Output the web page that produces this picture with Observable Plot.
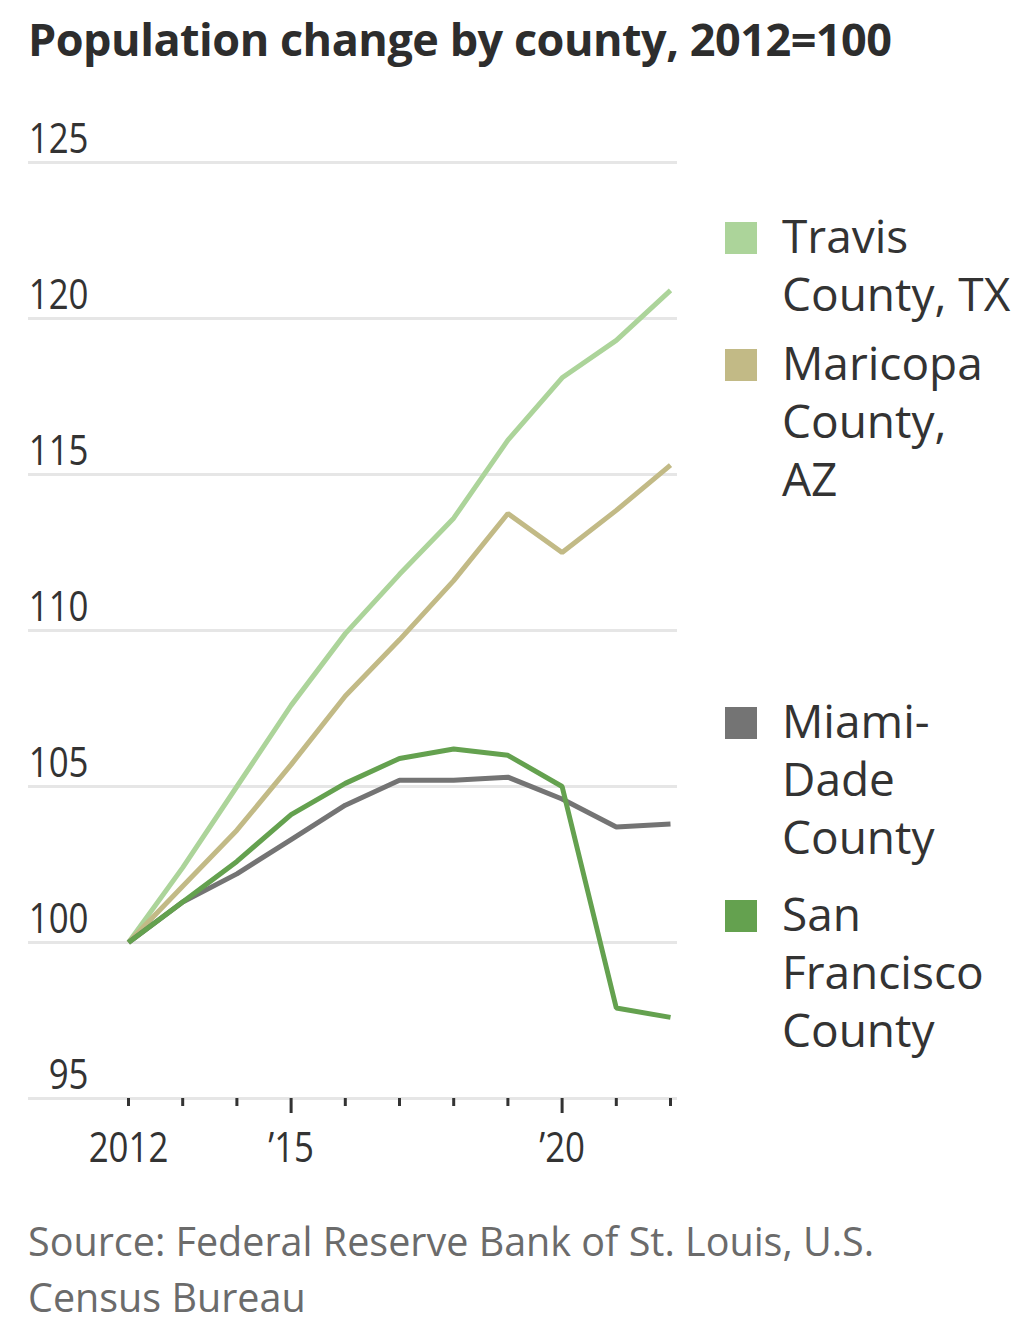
<!DOCTYPE html>
<html>
<head>
<meta charset="utf-8">
<script src="https://cdn.jsdelivr.net/npm/d3@7"></script>
<script src="https://cdn.jsdelivr.net/npm/@observablehq/plot@0.6"></script>
<style>
  html, body { margin: 0; padding: 0; background: #fff; }
  #wrap { position: relative; width: 1024px; height: 1334px; overflow: hidden; }
  #title { position: absolute; left: 28px; top: 8px; font-family: "Open Sans", "Noto Sans", sans-serif; font-weight: 700; font-size: 45px; color: #2d2d2d; white-space: nowrap; letter-spacing: -0.5px; }
  #chart { position: absolute; left: 0; top: 0; }
  #legend { position: absolute; left: 0; top: 0; font-family: "Open Sans", "Noto Sans", sans-serif; font-size: 46px; color: #333; }
  .item { position: absolute; left: 725px; }
  .sw { position: absolute; left: 0; width: 32px; height: 32px; }
  .lbl { position: absolute; left: 57px; line-height: 58px; white-space: nowrap; }
  #source { position: absolute; left: 28px; top: 1213px; font-family: "Open Sans", "Noto Sans", sans-serif; font-size: 39.5px; line-height: 56px; color: #6b6b6b; }
</style>
</head>
<body>
<div id="wrap">
  <div id="chart"></div>
  <div id="title"></div>
  <div id="legend"></div>
  <div id="source"></div>
</div>
<script>
const titleText = "Population change by county, 2012=100";
const sourceLines = ["Source: Federal Reserve Bank of St. Louis, U.S.", "Census Bureau"];

const years = [2012, 2013, 2014, 2015, 2016, 2017, 2018, 2019, 2020, 2021, 2022];
const counties = ["Travis County, TX", "Maricopa County, AZ", "Miami-Dade County", "San Francisco County"];
const legendLines = [["Travis", "County, TX"], ["Maricopa", "County,", "AZ"], ["Miami-", "Dade", "County"], ["San", "Francisco", "County"]];
const colors = ["#acd49a", "#c2ba86", "#747474", "#64a14f"];

const travis    = [100, 102.4, 105.0, 107.6, 109.9, 111.8, 113.6, 116.1, 118.1, 119.3, 120.9];
const maricopa  = [100, 101.8, 103.6, 105.7, 107.9, 109.7, 111.6, 113.75, 112.5, 113.85, 115.3];
const miamiDade = [100, 101.3, 102.2, 103.3, 104.4, 105.2, 105.2, 105.3, 104.6, 103.7, 103.8];
const sanFran   = [100, 101.3, 102.6, 104.1, 105.1, 105.9, 106.2, 106.0, 105.0, 97.9, 97.6];

const yTicks = [95, 100, 105, 110, 115, 120, 125];
const xLabelYears = [2012, 2015, 2020];
const xLabels = ["2012", "\u201915", "\u201920"];
const majorTickYears = [2015, 2020];

const seriesValues = [travis, maricopa, miamiDade, sanFran];
const data = counties.flatMap((c, i) => years.map((yr, j) => ({county: c, year: yr, value: seriesValues[i][j]})));

const chart = Plot.plot({
  width: 1024,
  height: 1200,
  marginLeft: 28,
  marginRight: 347,
  marginTop: 162,
  marginBottom: 102,
  style: {fontFamily: "'Open Sans', 'Noto Sans', sans-serif", color: "#333", background: "transparent"},
  x: {domain: [2012, 2022], insetLeft: 100, insetRight: 7, label: null},
  y: {domain: [95, 125], label: null},
  color: {domain: counties, range: colors},
  marks: [
    Plot.ruleY(yTicks, {stroke: "#e6e6e6", strokeWidth: 3}),
    Plot.axisY({ticks: yTicks, tickSize: 0, tickPadding: -60, dy: -23, fontSize: 42, fill: "#333", tickFormat: d => String(d), label: null}),
    Plot.axisX({ticks: years.filter(y => !majorTickYears.includes(y)), tickSize: 8, strokeWidth: 3, stroke: "#333", tickFormat: () => "", label: null}),
    Plot.axisX({ticks: majorTickYears, tickSize: 15, strokeWidth: 3, stroke: "#333", tickFormat: () => "", label: null}),
    Plot.axisX({ticks: xLabelYears, tickSize: 0, tickPadding: 34, fontSize: 42, fill: "#333", tickFormat: d => xLabels[xLabelYears.indexOf(d)], label: null}),
    Plot.lineY(data, {x: "year", y: "value", z: "county", stroke: "county", strokeWidth: 5, strokeLinejoin: "miter", strokeLinecap: "butt"})
  ]
});
// narrow the tick label glyphs to match the condensed numerals of the reference
d3.select(chart).selectAll("g[aria-label$='tick label'] text").each(function() {
  const t = this.getAttribute("transform") || "";
  this.setAttribute("transform", t + " scale(0.83,1)");
});
document.getElementById("chart").appendChild(chart);

document.getElementById("title").textContent = titleText;
document.getElementById("source").innerHTML = sourceLines.join("<br>");

const legendTops = [206, 333, 691, 884];
const legend = document.getElementById("legend");
counties.forEach((c, i) => {
  const item = document.createElement("div");
  item.className = "item";
  item.style.top = legendTops[i] + "px";
  const sw = document.createElement("div");
  sw.className = "sw";
  sw.style.top = "16px";
  sw.style.background = colors[i];
  const lbl = document.createElement("div");
  lbl.className = "lbl";
  lbl.style.top = "0px";
  lbl.innerHTML = legendLines[i].join("<br>");
  item.appendChild(sw);
  item.appendChild(lbl);
  legend.appendChild(item);
});
</script>
</body>
</html>
